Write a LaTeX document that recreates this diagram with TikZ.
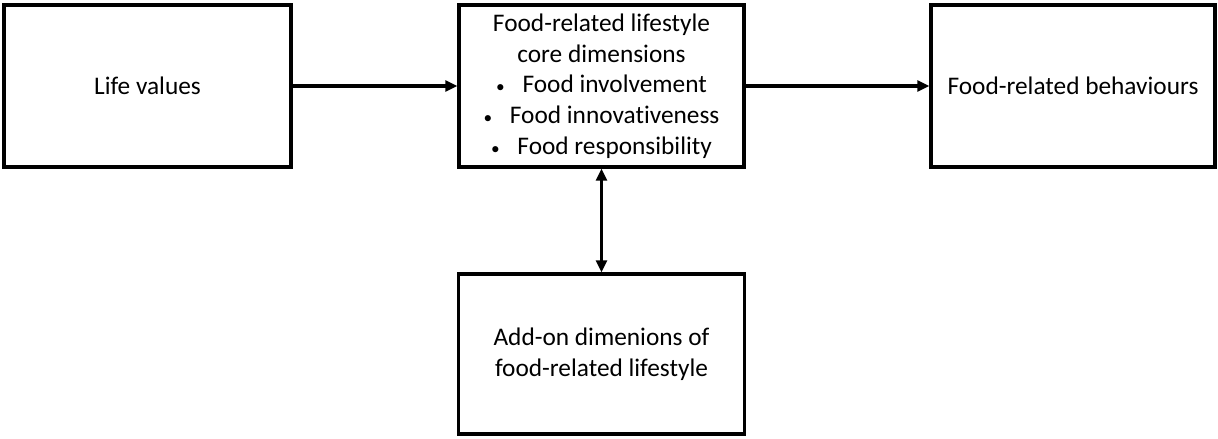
\documentclass[tikz,border=0pt]{standalone}
\usepackage{fontspec}
\setmainfont{Carlito}[Ligatures=NoCommon]
\usepackage{tikz}
\usetikzlibrary{positioning, arrows.meta}
\newcommand{\bul}{{\fontsize{13}{13}\selectfont\textbullet}\hspace{0.7em}}

\begin{document}
\begin{tikzpicture}[x=0.75pt, y=0.75pt, every node/.style={rectangle, draw, line width=2.4pt, align=center, font=\fontsize{19}{23}\selectfont, inner sep=0pt}]
    \useasboundingbox (0,0) rectangle (1218,439);
    \node[minimum width=287pt*0.75, minimum height=162pt*0.75] (life) at (147.5,353) {Life values};
    \node[minimum width=285pt*0.75, minimum height=162pt*0.75] (core) at (601.5,353) {Food-related lifestyle\\core dimensions\\\bul Food involvement\\\bul Food innovativeness\\\bul Food responsibility};
    \node[minimum width=284pt*0.75, minimum height=162pt*0.75] (behav) at (1073,353) {Food-related behaviours};
    \node[minimum width=286pt*0.75, minimum height=160pt*0.75] (addon) at (601.5,85) {Add-on dimenions of\\food-related lifestyle};
    \draw[line width=2.4pt, -{Triangle[length=9pt, width=8pt]}] (life) -- (core);
    \draw[line width=2.4pt, -{Triangle[length=9pt, width=8pt]}] (core) -- (behav);
    \draw[line width=2.4pt, {Triangle[length=9pt, width=8pt]}-{Triangle[length=9pt, width=8pt]}] (core) -- (addon);
\end{tikzpicture}
\end{document}
